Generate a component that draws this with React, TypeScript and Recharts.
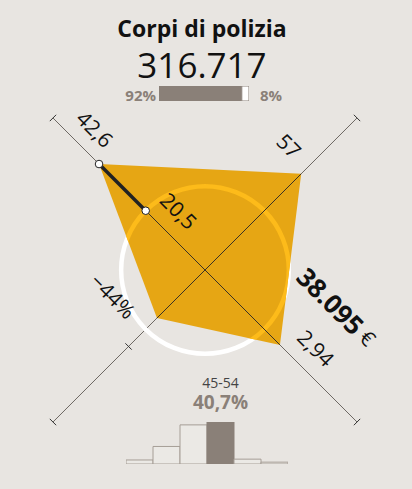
import React from 'react';
import {
  RadarChart,
  Radar,
  PolarGrid,
  PolarAngleAxis,
  PolarRadiusAxis,
  BarChart,
  Bar,
  XAxis,
  YAxis,
  Cell,
} from 'recharts';

// radar axes, clockwise from top-left
const axisKeys = ['eta', 'pensione', 'figli', 'variazione'];
const axisLabels = ['42,6', '57', '2,94', '−44%'];
const axisPos = [0.697, 0.633, 0.493, 0.316];

// reference circle (same value on every axis) and its label on the first axis
const refLabel = '20,5';
const refPos = 0.39;
const midTickPos = 0.503;

const income = '38.095';

// men / women share
const genderShare = [92, 8];

// age histogram
const ageBands = ['15-24', '25-34', '35-44', '45-54', '55-64', '65+'];
const ageShare = [3.9, 17.0, 37.9, 40.7, 4.7, 1.8];
const topBand = 3;

const BG = '#E8E5E1';
const GREY = '#8A8078';
const FONT = "'Open Sans', sans-serif";

const W = 412;
const H = 489;
const CX = 205;
const CY = 270;
const R = 215;
const RAD = Math.PI / 180;

const radarData = axisKeys.map((k, i) => ({ key: k, v: axisPos[i] }));
const shareData = [{ name: 'gender', m: genderShare[0], f: genderShare[1] }];
const ageData = ageBands.map((b, i) => ({ band: b, v: ageShare[i] }));

const RadarShape = (props: any) => {
  const pts = props.points || [];
  if (!pts.length) return null;
  const cx = pts[0].cx ?? CX;
  const cy = pts[0].cy ?? CY;
  const at = (r: number, a: number) => ({
    x: cx + r * Math.cos(-a * RAD),
    y: cy + r * Math.sin(-a * RAD),
  });
  const poly = pts.map((p: any) => `${p.x},${p.y}`).join(' ');
  const ringR = R * refPos;
  const inner = at(ringR, pts[0].angle);
  const tick = (r: number, a: number, key: string) => {
    const c = at(r, a);
    const d = at(4.5, a + 90);
    const ox = d.x - cx;
    const oy = d.y - cy;
    return (
      <line key={key} x1={c.x - ox} y1={c.y - oy} x2={c.x + ox} y2={c.y + oy} stroke="#333" strokeWidth={1} />
    );
  };
  const lbl = (x: number, y: number, text: React.ReactNode, key: string, size = 21) => (
    <text
      key={key}
      x={x}
      y={y}
      transform={`rotate(45, ${x}, ${y})`}
      textAnchor="middle"
      dominantBaseline="central"
      fontSize={size}
      fontFamily={FONT}
      fill="#111"
    >
      {text}
    </text>
  );
  const [tl, tr, br, bl] = pts;
  return (
    <g>
      <circle cx={cx} cy={cy} r={ringR} fill="none" stroke="#ffffff" strokeWidth={4.5} />
      <polygon points={poly} fill="#E6A614" />
      <defs>
        <clipPath id="polyClip">
          <polygon points={poly} />
        </clipPath>
      </defs>
      <g clipPath="url(#polyClip)">
        <circle cx={cx} cy={cy} r={ringR} fill="none" stroke="#FDBB1A" strokeWidth={4.5} />
        {pts.map((p: any, i: number) => {
          const e = at(R, p.angle);
          return <line key={i} x1={cx} y1={cy} x2={e.x} y2={e.y} stroke="#3a3224" strokeWidth={1} />;
        })}
      </g>
      {pts.map((p: any, i: number) => tick(R, p.angle, 't' + i))}
      {tick(R * midTickPos, bl.angle, 'mid')}
      <line x1={tl.x} y1={tl.y} x2={inner.x} y2={inner.y} stroke="#222" strokeWidth={3.5} />
      <circle cx={tl.x} cy={tl.y} r={3.8} fill="#fff" stroke="#222" strokeWidth={1} />
      <circle cx={inner.x} cy={inner.y} r={3.8} fill="#fff" stroke="#222" strokeWidth={1} />
      {lbl(tl.x - 4, tl.y - 35, axisLabels[0], 'l0')}
      {lbl(inner.x + 33, inner.y, refLabel, 'lr')}
      {lbl(tr.x - 12, tr.y - 28, axisLabels[1], 'l1')}
      {lbl(br.x + 36, br.y + 3, axisLabels[2], 'l2')}
      {lbl(bl.x - 44, bl.y - 22, axisLabels[3], 'l3')}
      {lbl(
        br.x + 57,
        br.y - 38,
        <>
          <tspan fontWeight={700} fontSize={26}>{income}</tspan>
          <tspan fontSize={21}> €</tspan>
        </>,
        'inc'
      )}
    </g>
  );
};

const HIST_LEFT = 126;
const HIST_W = 162;
const barCenter = HIST_LEFT + (HIST_W / ageBands.length) * (topBand + 0.5);

export default function App() {
  return (
    <div style={{ position: 'absolute', left: 0, top: 0, width: W, height: H, background: BG, fontFamily: FONT }}>
      <div style={{ position: 'absolute', left: 0, top: 0 }}>
        <RadarChart
          width={W}
          height={H}
          cx={CX}
          cy={CY}
          outerRadius={R}
          startAngle={135}
          endAngle={-225}
          data={radarData}
          margin={{ top: 0, right: 0, bottom: 0, left: 0 }}
        >
          <PolarGrid gridType="polygon" polarRadius={[]} stroke="#6e6964" strokeWidth={1} />
          <PolarAngleAxis dataKey="key" tick={false} axisLine={false} tickLine={false} />
          <PolarRadiusAxis type="number" domain={[0, 1]} tick={false} axisLine={false} />
          <Radar dataKey="v" shape={<RadarShape />} isAnimationActive={false} />
        </RadarChart>
      </div>

      <div style={{ position: 'absolute', left: 159, top: 86 }}>
        <BarChart
          width={90}
          height={15}
          layout="vertical"
          data={shareData}
          margin={{ top: 0, right: 0, bottom: 0, left: 0 }}
          barCategoryGap={0}
        >
          <XAxis type="number" domain={[0, 100]} hide />
          <YAxis type="category" dataKey="name" hide />
          <Bar dataKey="m" stackId="s" fill={GREY} isAnimationActive={false} />
          <Bar dataKey="f" stackId="s" fill="#ffffff" stroke={GREY} strokeWidth={1} isAnimationActive={false} />
        </BarChart>
      </div>

      <div style={{ position: 'absolute', left: HIST_LEFT, top: 422 }}>
        <BarChart
          width={HIST_W}
          height={42}
          data={ageData}
          margin={{ top: 0, right: 0, bottom: 0, left: 0 }}
          barCategoryGap={0}
        >
          <XAxis dataKey="band" hide />
          <YAxis domain={[0, 40.7]} hide />
          <Bar dataKey="v" stroke="#A69E96" strokeWidth={1} isAnimationActive={false}>
            {ageData.map((d, i) => (
              <Cell key={d.band} fill={i === topBand ? GREY : '#EBE9E5'} stroke={i === topBand ? GREY : '#A69E96'} />
            ))}
          </Bar>
        </BarChart>
      </div>

      <svg width={W} height={H} style={{ position: 'absolute', left: 0, top: 0, pointerEvents: 'none' }}>
        <text x={202} y={37} textAnchor="middle" fontSize={23} fontWeight={700} fill="#111" fontFamily={FONT}>
          Corpi di polizia
        </text>
        <text x={202} y={78} textAnchor="middle" fontSize={35} fill="#111" fontFamily={FONT}>
          316.717
        </text>
        <text x={156} y={101} textAnchor="end" fontSize={15} fontWeight={700} fill={GREY} fontFamily={FONT}>
          {genderShare[0]}%
        </text>
        <text x={260} y={101} textAnchor="start" fontSize={15} fontWeight={700} fill={GREY} fontFamily={FONT}>
          {genderShare[1]}%
        </text>
        <text x={barCenter} y={388} textAnchor="middle" fontSize={14} fill="#444" fontFamily={FONT}>
          {ageBands[topBand]}
        </text>
        <text x={barCenter} y={409} textAnchor="middle" fontSize={19} fontWeight={700} fill={GREY} fontFamily={FONT}>
          {String(ageShare[topBand]).replace('.', ',')}%
        </text>
      </svg>
    </div>
  );
}
